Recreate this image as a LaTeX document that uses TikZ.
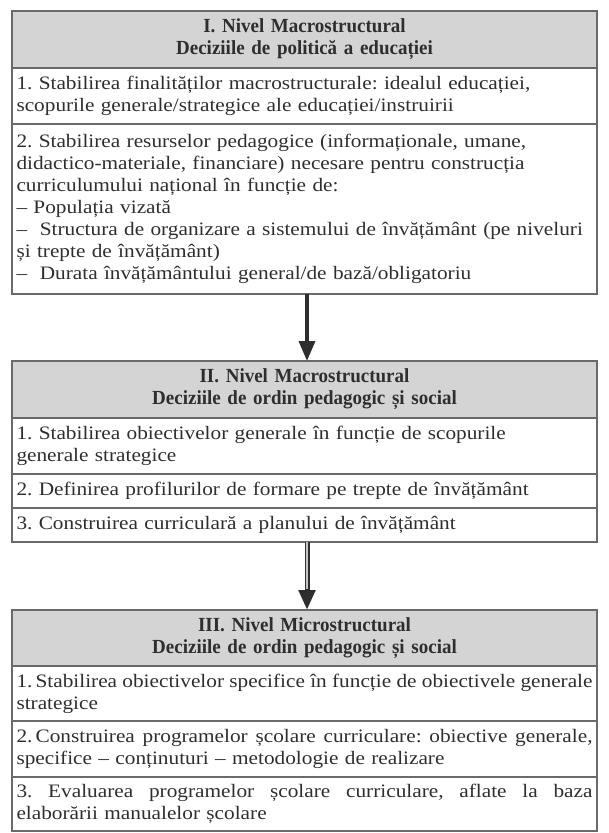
\documentclass[tikz,border=0pt]{standalone}
\usepackage{fontspec}
\setmainfont{Liberation Serif}[FakeStretch=1.12,BoldFeatures={FakeStretch=0.95}]
\usetikzlibrary{positioning,arrows.meta,calc}
\definecolor{rulegray}{HTML}{6A6A6A}
\definecolor{headgray}{HTML}{D4D4D4}
\definecolor{inkgray}{HTML}{2E2E2E}
\newcommand{\tightline}[1]{\makebox[\hsize][s]{\spaceskip=0.18em plus 1em minus 0.1em\relax #1}}
\tikzset{
cell/.style={draw=rulegray,line width=1.2pt,text width=576pt,inner xsep=4.5pt,inner ysep=3pt,outer sep=0pt,align=left,text=inkgray,font={\fontsize{19}{22}\selectfont\frenchspacing\hyphenpenalty=10000\relax}},
headcell/.style={cell,fill=headgray,align=center,font=\fontsize{20}{22}\selectfont\bfseries},
flow/.style={-{Triangle[length=20pt,width=16pt]},line width=3.5pt,draw=inkgray}
}

\begin{document}
\begin{tikzpicture}[x=1pt,y=1pt]
	\useasboundingbox (0,0) rectangle (609,-833);
	
	%level I
	\node[headcell,minimum height=57pt,anchor=north west] (h1) at (12,-11) {I. Nivel Macrostructural\\Deciziile de politică a educației};
	\node[cell,minimum height=56pt,below=0pt of h1] (r11) {1. Stabilirea finalităților macrostructurale: idealul educației,\\scopurile generale/strategice ale educației/instruirii};
	\node[cell,minimum height=170pt,below=0pt of r11] (r12) {2. Stabilirea resurselor pedagogice (informaționale, umane,\\didactico-materiale, financiare) necesare pentru construcția\\curriculumului național în funcție de:\\– Populația vizată\\– \ Structura de organizare a sistemului de învățământ (pe niveluri\\și trepte de învățământ)\\– \ Durata învățământului general/de bază/obligatoriu};
	
	%level II
	\node[headcell,minimum height=57pt,below=67pt of r12] (h2) {II. Nivel Macrostructural\\Deciziile de ordin pedagogic și social};
	\node[cell,minimum height=56pt,below=0pt of h2] (r21) {1. Stabilirea obiectivelor generale în funcție de scopurile\\generale strategice};
	\node[cell,minimum height=34pt,below=0pt of r21] (r22) {2. Definirea profilurilor de formare pe trepte de învățământ};
	\node[cell,minimum height=34pt,below=0pt of r22] (r23) {3. Construirea curriculară a planului de învățământ};
	
	%level III
	\node[headcell,minimum height=56pt,below=68pt of r23] (h3) {III. Nivel Microstructural\\Deciziile de ordin pedagogic și social};
	\node[cell,minimum height=55pt,below=0pt of h3] (r31) {\tightline{1.\,Stabilirea obiectivelor specifice în funcție de obiectivele generale}\\strategice};
	\node[cell,minimum height=56pt,below=0pt of r31] (r32) {\tightline{2.\,Construirea programelor școlare curriculare: obiective generale,}\\specifice – conținuturi – metodologie de realizare};
	\node[cell,minimum height=54pt,below=0pt of r32] (r33) {\hbox to 576pt{3.\hfill Evaluarea\hfill programelor\hfill școlare\hfill curriculare,\hfill aflate\hfill la\hfill baza}\\elaborării manualelor școlare};
	
	%arrows between levels
	\draw[flow] ([xshift=2.5pt]r12.south) -- ([xshift=2.5pt]h2.north);
	\draw[flow,line width=5pt] ([xshift=2.5pt]r23.south) -- ([xshift=2.5pt]h3.north);
	\draw[gray!45,line width=2pt] ([xshift=2.5pt]r23.south) -- ([xshift=2.5pt,yshift=21pt]h3.north);
	
\end{tikzpicture}
\end{document}
